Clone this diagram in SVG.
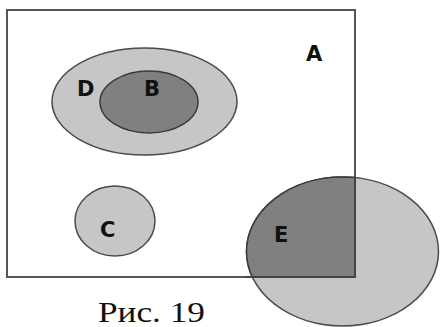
<svg xmlns="http://www.w3.org/2000/svg" width="440" height="327" viewBox="0 0 440 327">
<style>
.lt{fill:#c6c6c6;stroke:#4a4a4a;stroke-width:1.5}
.dk{fill:#808080;stroke:#3a3a3a;stroke-width:1.5}
.lb{font-family:"DejaVu Sans",sans-serif;font-weight:bold;font-size:21px;fill:#111}
.cap{font-family:"Liberation Serif",serif;font-size:30px;fill:#111}
</style>
<defs>
<clipPath id="rc"><rect x="7" y="10" width="348" height="267"/></clipPath>
</defs>
<rect width="440" height="327" fill="#fff"/>
<g id="A">
<rect x="7" y="10" width="348" height="267" fill="#fff" stroke="#555" stroke-width="2"/>
<text class="lb" x="306" y="61">A</text>
</g>
<g id="D">
<ellipse class="lt" cx="144.5" cy="101.5" rx="92.5" ry="53.5"/>
<text class="lb" x="77" y="96">D</text>
</g>
<g id="B">
<ellipse class="dk" cx="149" cy="102" rx="49" ry="31"/>
<text class="lb" x="144" y="96">B</text>
</g>
<g id="C">
<ellipse class="lt" cx="115" cy="221" rx="40" ry="35"/>
<text class="lb" x="100" y="237">C</text>
</g>
<g id="E">
<ellipse class="lt" cx="342.5" cy="251.5" rx="96" ry="74.5"/>
<ellipse cx="342.5" cy="251.5" rx="96" ry="74.5" fill="#808080" stroke="#3a3a3a" stroke-width="1.5" clip-path="url(#rc)"/>
<path d="M355 176 V277 H246" fill="none" stroke="#444" stroke-width="2"/>
<text class="lb" x="274" y="242">E</text>
</g>
<g id="connectors"/>
<text class="cap" x="98" y="322" textLength="107" lengthAdjust="spacingAndGlyphs">Рис. 19</text>
</svg>
